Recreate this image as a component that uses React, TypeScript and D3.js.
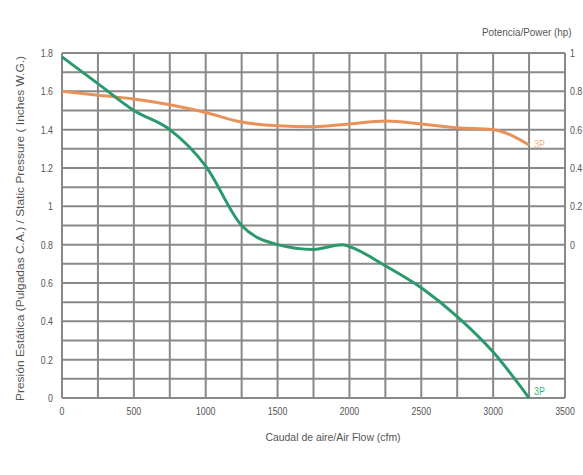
import React from "react";
import * as d3 from "d3";

const airflow = [0, 250, 500, 750, 1000, 1250, 1500, 1750, 1950, 2000, 2250, 2500, 2750, 3000, 3250];
const pressure = [1.78, 1.64, 1.5, 1.4, 1.21, 0.9, 0.8, 0.775, 0.8, 0.79, 0.69, 0.575, 0.425, 0.24, 0.0];
const powerFlow = [0, 250, 500, 750, 1000, 1250, 1500, 1750, 2000, 2250, 2500, 2750, 3000, 3250];
const power = [0.8, 0.78, 0.76, 0.73, 0.69, 0.64, 0.62, 0.615, 0.63, 0.645, 0.63, 0.61, 0.6, 0.52];
const xTicks = [0, 500, 1000, 1500, 2000, 2500, 3000, 3500];
const yTicks = [0, 0.2, 0.4, 0.6, 0.8, 1, 1.2, 1.4, 1.6, 1.8];
const powerTicks = [0, 0.2, 0.4, 0.6, 0.8, 1];
const seriesLabels = ["3P", "3P"];

const W = 583, H = 475;
const L = 62, R = 565, T = 53, B = 398;
const FONT = "'Liberation Sans', Arial, sans-serif";

function CText(props: { x: number; y: number; anchor?: string; size?: number; sx?: number; fill?: string; children: React.ReactNode }) {
  const { x, y, anchor = "start", size = 11, sx = 0.8, fill = "#555", children } = props;
  return (
    <text transform={`translate(${x},${y}) scale(${sx},1)`} textAnchor={anchor} fontSize={size} fill={fill}>
      {children}
    </text>
  );
}

export default function App() {
  const x = d3.scaleLinear().domain([0, 3500]).range([L, R]);
  const y = d3.scaleLinear().domain([0, 1.8]).range([B, T]);
  const yp = d3.scaleLinear().domain([0, 1]).range([y(0.8), y(1.8)]);
  const vGrid = d3.range(0, 3501, 250);
  const hGrid = d3.range(0, 19).map((i) => i / 10);

  const line = d3.line<[number, number]>().x((d) => d[0]).y((d) => d[1]).curve(d3.curveMonotoneX);
  const greenPath = line(airflow.map((a, i) => [x(a), y(pressure[i])]));
  const orangePath = line(powerFlow.map((a, i) => [x(a), yp(power[i])]));
  const gEnd = airflow.length - 1;
  const oEnd = powerFlow.length - 1;

  return (
    <svg width={W} height={H} style={{ position: "absolute", left: 0, top: 0, background: "#fff" }} fontFamily={FONT}>
      <rect x={0} y={0} width={W} height={H} fill="#fff" />
      {vGrid.map((v) => (
        <line key={"v" + v} x1={x(v)} x2={x(v)} y1={T} y2={B} stroke="#888" strokeWidth={2} />
      ))}
      {hGrid.map((v) => (
        <line key={"h" + v} x1={L} x2={R} y1={y(v)} y2={y(v)} stroke="#888" strokeWidth={2} />
      ))}
      <path d={orangePath || ""} fill="none" stroke="#e8925a" strokeWidth={3} />
      <path d={greenPath || ""} fill="none" stroke="#2a9a6c" strokeWidth={3} />
      <CText x={x(powerFlow[oEnd]) + 5} y={yp(power[oEnd]) + 3} size={11} fill="#f0b080">{seriesLabels[1]}</CText>
      <CText x={x(airflow[gEnd]) + 5} y={y(pressure[gEnd]) - 3} size={11} fill="#35b57f">{seriesLabels[0]}</CText>
      {yTicks.map((t) => (
        <CText key={"yt" + t} x={L - 9} y={y(t) + 4} anchor="end">{String(t)}</CText>
      ))}
      {xTicks.map((t) => (
        <CText key={"xt" + t} x={x(t)} y={B + 17} anchor="middle">{String(t)}</CText>
      ))}
      {powerTicks.map((t) => (
        <CText key={"pt" + t} x={R + 5} y={yp(t) + 4}>{String(t)}</CText>
      ))}
      <CText x={482} y={36} sx={0.9}>Potencia/Power (hp)</CText>
      <CText x={333} y={441} anchor="middle" sx={0.95}>Caudal de aire/Air Flow (cfm)</CText>
      <text transform={`translate(24, ${(T + B) / 2 + 3}) rotate(-90)`} fontSize={11} fill="#555" textAnchor="middle" textLength={345} lengthAdjust="spacingAndGlyphs">
        Presión Estática (Pulgadas C.A.) / Static Pressure ( Inches W.G.)
      </text>
    </svg>
  );
}
